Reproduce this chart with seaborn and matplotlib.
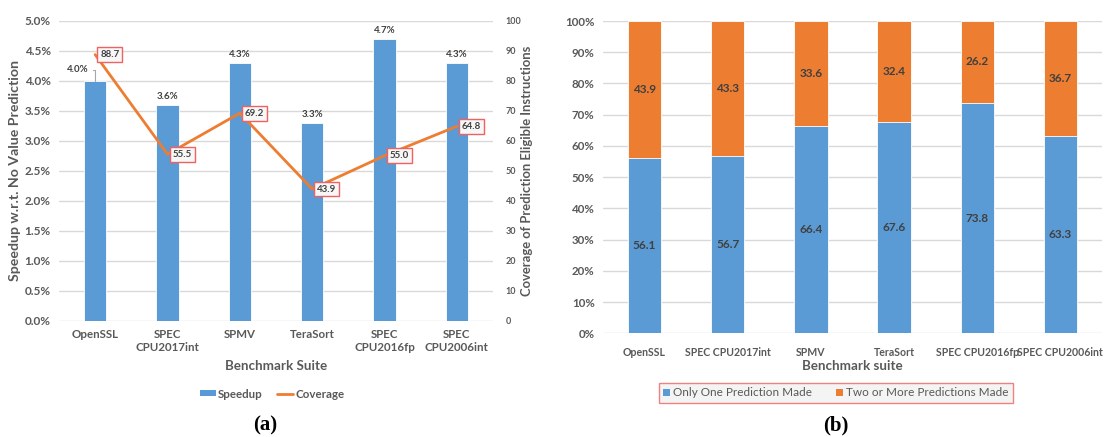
import numpy as np
import pandas as pd
import matplotlib
matplotlib.use("Agg")
import matplotlib.pyplot as plt
from matplotlib.patches import Patch
from matplotlib.lines import Line2D
from matplotlib.ticker import FuncFormatter, MultipleLocator
import seaborn as sns

# ---- data ----
suites = ["OpenSSL", "SPEC CPU2017int", "SPMV", "TeraSort", "SPEC CPU2016fp", "SPEC CPU2006int"]
suite_ticks_a = ["OpenSSL", "SPEC\nCPU2017int", "SPMV", "TeraSort", "SPEC\nCPU2016fp", "SPEC\nCPU2006int"]
speedup = [4.0, 3.6, 4.3, 3.3, 4.7, 4.3]            # percent
coverage = [88.7, 55.5, 69.2, 43.9, 55.0, 64.8]     # percent of eligible instructions
one_pred = [56.1, 56.7, 66.4, 67.6, 73.8, 63.3]
multi_pred = [43.9, 43.3, 33.6, 32.4, 26.2, 36.7]

BLUE = "#5B9BD5"
ORANGE = "#ED7D31"
GRID = "#D9D9D9"
TICK = "#595959"
LABEL = "#404040"
BOXRED = "#F06262"

sns.set_theme(style="white")
plt.rcParams["font.family"] = ["Lato", "DejaVu Sans"]

W, H = 1104, 437
fig = plt.figure(figsize=(W / 100, H / 100), dpi=100)


def fx(px):
    return px / W


def fy(py):
    return 1 - py / H


# ---------------- panel (a) ----------------
ax = fig.add_axes([fx(59), fy(320.7), fx(493 - 59), (320.7 - 20.7) / H])
df_a = pd.DataFrame({"suite": suites, "speedup": speedup, "coverage": coverage})
sns.barplot(data=df_a, x="suite", y="speedup", ax=ax, color=BLUE, width=0.31,
            saturation=1, edgecolor="white", linewidth=0.6, zorder=3)
ax.set_ylim(0, 5)
ax.set_xlim(-0.5, len(suites) - 0.5)
ax.yaxis.set_major_locator(MultipleLocator(0.5))
ax.yaxis.set_major_formatter(FuncFormatter(lambda v, p: f"{v:.1f}%"))
ax.grid(axis="y", color=GRID, lw=1, zorder=0)
ax.set_axisbelow(True)
for s in ax.spines.values():
    s.set_visible(False)
ax.set_xticks(range(len(suites)))
ax.set_xticklabels(suite_ticks_a)
ax.tick_params(axis="x", length=0, pad=6, labelsize=8.3, labelcolor=TICK)
ax.tick_params(axis="y", length=0, pad=6, labelsize=8.5, labelcolor=TICK)
for t in ax.get_xticklabels() + ax.get_yticklabels():
    t.set_fontweight("bold")

# bar value labels
for i, v in enumerate(speedup):
    if i == 0:
        # label pulled aside with a leader line
        ax.annotate(f"{v:.1f}%", xy=(i, v), xytext=(-7, 11), textcoords="offset pixels",
                    ha="right", va="center", fontsize=7, fontweight="bold", color=LABEL,
                    arrowprops=dict(arrowstyle="-", color="#A6A6A6", lw=0.8,
                                    connectionstyle="angle,angleA=0,angleB=90,rad=0",
                                    shrinkA=1, shrinkB=0))
    else:
        ax.annotate(f"{v:.1f}%", xy=(i, v), xytext=(0, 4), textcoords="offset pixels",
                    ha="center", va="bottom", fontsize=7, fontweight="bold", color=LABEL)

ax.set_ylabel("Speedup w.r.t. No Value Prediction", fontsize=10.2, fontweight="bold", color=TICK)
ax.yaxis.set_label_coords((15 - 59) / 434, 0.5)
ax.yaxis.label.set_va("center")
ax.set_xlabel("Benchmark Suite", fontsize=9.6, fontweight="bold", color=TICK)
ax.xaxis.set_label_coords(0.5, (320.7 - 366) / 300)
ax.xaxis.label.set_va("center")

ax2 = ax.twinx()
sns.lineplot(x=np.arange(len(suites)), y=coverage, ax=ax2, color=ORANGE, lw=2, zorder=4)
ax2.set_ylim(0, 100)
ax2.set_xlim(-0.5, len(suites) - 0.5)
ax2.yaxis.set_major_locator(MultipleLocator(10))
for s in ax2.spines.values():
    s.set_visible(False)
ax2.tick_params(axis="y", length=0, pad=9, labelsize=6.5, labelcolor=TICK)
for t in ax2.get_yticklabels():
    t.set_fontweight("bold")
ax2.set_ylabel("Coverage of Prediction Eligible Instructions", fontsize=9.4,
               fontweight="bold", color=TICK)
ax2.yaxis.set_label_coords((527 - 59) / 434, 0.5)
ax2.yaxis.label.set_va("center")
for i, c in enumerate(coverage):
    ax2.annotate(f"{c:.1f}", xy=(i, c), xytext=(5, 0), textcoords="offset pixels",
                 ha="left", va="center", fontsize=7, fontweight="bold", color=LABEL,
                 bbox=dict(boxstyle="square,pad=0.3", fc="#F7F7F7", ec=BOXRED, lw=1),
                 zorder=5)

fig.legend(handles=[Patch(facecolor=BLUE, edgecolor="none", label="Speedup"),
                    Line2D([], [], color=ORANGE, lw=2, label="Coverage")],
           loc="center", bbox_to_anchor=(fx(272), fy(394)), ncol=2, frameon=False,
           handlelength=1.4, handleheight=0.45, handletextpad=0.2,
           columnspacing=1.2, labelcolor=TICK, prop={"weight": "bold", "size": 8.3})

fig.text(fx(265), fy(425), "(a)", ha="center", va="center", fontsize=15,
         fontweight="bold", family="Liberation Serif", color="black")

# ---------------- panel (b) ----------------
bx = fig.add_axes([fx(603), fy(333.3), fx(1102 - 603), (333.3 - 21) / H])
totals = [a + b for a, b in zip(one_pred, multi_pred)]
df_b = pd.DataFrame({"suite": suites, "one": one_pred, "total": totals})
sns.barplot(data=df_b, x="suite", y="total", ax=bx, color=ORANGE, width=0.4,
            saturation=1, edgecolor="white", linewidth=0.6, zorder=3)
sns.barplot(data=df_b, x="suite", y="one", ax=bx, color=BLUE, width=0.4,
            saturation=1, edgecolor="white", linewidth=0.6, zorder=4)
bx.set_ylim(0, 100)
bx.set_xlim(-0.5, len(suites) - 0.5)
bx.yaxis.set_major_locator(MultipleLocator(10))
bx.yaxis.set_major_formatter(FuncFormatter(lambda v, p: f"{v:.0f}%"))
bx.grid(axis="y", color=GRID, lw=1, zorder=0)
bx.set_axisbelow(True)
for s in bx.spines.values():
    s.set_visible(False)
bx.tick_params(axis="x", length=0, pad=10, labelsize=7.6, labelcolor=TICK)
bx.tick_params(axis="y", length=0, pad=6, labelsize=8.3, labelcolor=TICK)
for t in bx.get_xticklabels() + bx.get_yticklabels():
    t.set_fontweight("bold")
bx.set_xlabel("Benchmark suite", fontsize=9.6, fontweight="bold", color=TICK)
bx.xaxis.set_label_coords(0.5, (333.3 - 366) / 312.3)
bx.xaxis.label.set_va("center")
bx.set_ylabel("")

for i, (a, b) in enumerate(zip(one_pred, multi_pred)):
    bx.text(i, a / 2, f"{a:.1f}", ha="center", va="center", fontsize=8.5,
            fontweight="bold", color=LABEL, zorder=6)
    bx.text(i, a + b / 2, f"{b:.1f}", ha="center", va="center", fontsize=8.5,
            fontweight="bold", color=LABEL, zorder=6)

leg = fig.legend(handles=[Patch(facecolor=BLUE, edgecolor="none", label="Only One Prediction Made"),
                          Patch(facecolor=ORANGE, edgecolor="none", label="Two or More Predictions Made")],
                 loc="center", bbox_to_anchor=(fx(836), fy(393)), ncol=2, frameon=True,
                 fancybox=False, handlelength=0.55, handleheight=0.55, handletextpad=0.3,
                 columnspacing=2.0, borderpad=0.35, labelcolor=TICK,
                 prop={"size": 8.5})
leg.get_frame().set_facecolor("#F2F2F2")
leg.get_frame().set_edgecolor(BOXRED)
leg.get_frame().set_linewidth(1)

fig.text(fx(836), fy(425), "(b)", ha="center", va="center", fontsize=15,
         fontweight="bold", family="Liberation Serif", color="black")

fig.savefig("out.png", dpi=100)
